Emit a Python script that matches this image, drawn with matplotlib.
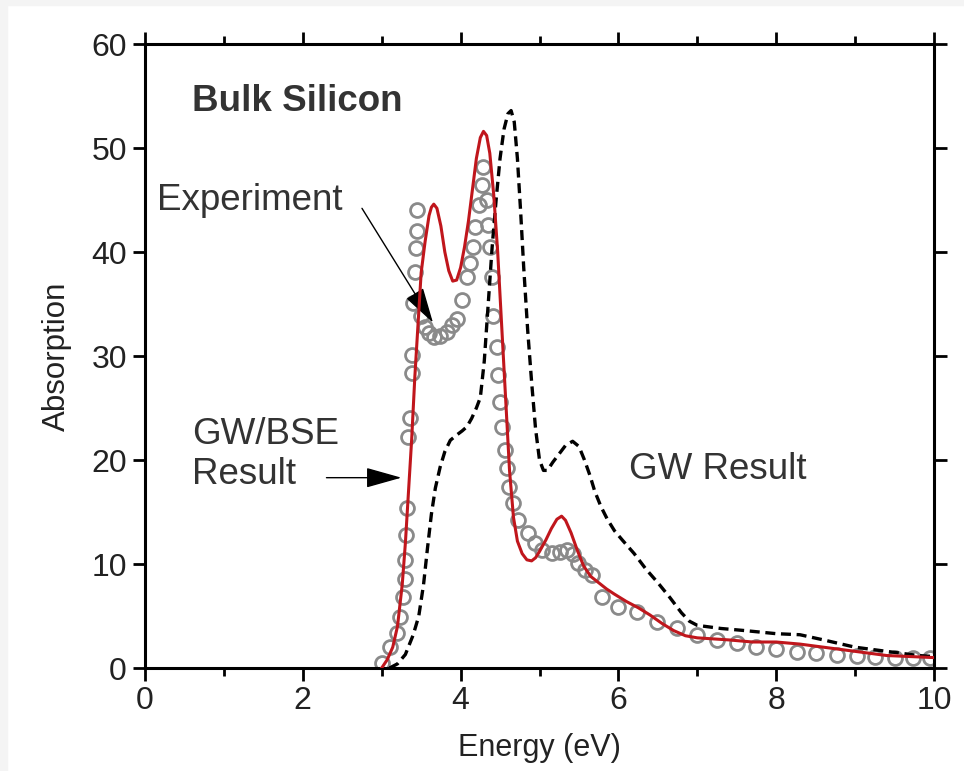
import matplotlib.pyplot as plt
from matplotlib.patches import Rectangle

plt.rcParams['font.family'] = ['Liberation Sans', 'DejaVu Sans']

# GW/BSE result (red solid)
bse_e = [3.0, 3.07, 3.14, 3.2, 3.26, 3.3, 3.34, 3.38, 3.42, 3.46, 3.5, 3.55, 3.6, 3.63, 3.66,
         3.7, 3.75, 3.8, 3.85, 3.9, 3.95, 4.0, 4.05, 4.1, 4.15, 4.2, 4.25, 4.29, 4.33, 4.37,
         4.42, 4.47, 4.52, 4.57, 4.62, 4.67, 4.72, 4.78, 4.84, 4.9, 4.95, 5.0, 5.08, 5.15,
         5.22, 5.28, 5.33, 5.4, 5.48, 5.56, 5.65, 5.75, 5.85, 5.95, 6.1, 6.25, 6.4, 6.55,
         6.7, 6.85, 7.0, 7.2, 7.4, 7.7, 8.0, 8.3, 8.6, 9.0, 9.4, 9.7, 10.0]
bse_a = [0, 0.8, 2, 4, 8, 12, 17, 22, 28, 33, 38, 41, 43.5, 44.3, 44.6,
         44.2, 42.5, 40, 38.2, 37.2, 37.3, 38.5, 40.5, 43, 46, 49, 51, 51.6, 51.2, 49.5,
         45.5, 40, 33, 26, 19, 14.5, 12.2, 11, 10.4, 10.3, 10.6, 11.2, 12.3, 13.4,
         14.3, 14.6, 14.2, 13, 11.3, 9.8, 8.8, 8.2, 7.6, 7.1, 6.4, 5.8, 5.1, 4.3,
         3.6, 3.1, 2.9, 2.8, 2.7, 2.5, 2.5, 2.3, 2.0, 1.6, 1.2, 1.1, 1.0]

# GW result (black dashed)
gw_e = [3.1, 3.2, 3.3, 3.4, 3.47, 3.53, 3.58, 3.63, 3.68, 3.74, 3.8, 3.87, 3.95, 4.02, 4.08,
        4.14, 4.2, 4.25, 4.3, 4.35, 4.4, 4.45, 4.5, 4.55, 4.6, 4.64, 4.68, 4.72, 4.76, 4.8,
        4.85, 4.9, 4.95, 5.0, 5.05, 5.1, 5.17, 5.25, 5.33, 5.42, 5.5, 5.57, 5.64, 5.7, 5.78,
        5.86, 5.95, 6.05, 6.2, 6.35, 6.5, 6.65, 6.8, 6.9, 7.0, 7.3, 7.6, 8.0, 8.3, 8.6, 9.0,
        9.4, 9.8, 10.0]
gw_a = [0, 0.4, 1.3, 3.2, 5, 8, 11.5, 14.8, 17.3, 19.3, 20.8, 21.9, 22.4, 22.8, 23.2,
        24, 25, 26, 29.5, 35, 40.5, 45, 49, 51.8, 53.3, 53.6, 52.5, 49, 44, 38.5,
        32.5, 27.5, 23, 20, 19, 19, 19.8, 20.6, 21.4, 21.8, 21.3, 20, 18.5, 17, 15.5,
        14.3, 13.2, 12.3, 11, 9.5, 8.2, 6.8, 5.3, 4.5, 4.1, 3.8, 3.6, 3.3, 3.2, 2.7, 2.0,
        1.6, 1.2, 1.1]

# experiment (open circles)
exp_e = [3.0, 3.1, 3.19, 3.23, 3.27, 3.3, 3.3, 3.31, 3.32, 3.33, 3.36, 3.38, 3.38, 3.4, 3.42,
         3.44, 3.45, 3.45, 3.5, 3.55, 3.6, 3.66, 3.74, 3.83, 3.89, 3.95, 4.02, 4.08, 4.12, 4.16,
         4.18, 4.23, 4.27, 4.29, 4.33, 4.35, 4.37, 4.4, 4.41, 4.46, 4.47, 4.5, 4.52, 4.56, 4.59,
         4.61, 4.66, 4.73, 4.85, 4.94, 5.03, 5.16, 5.26, 5.35, 5.42, 5.49, 5.58, 5.66, 5.79,
         6.0, 6.24, 6.49, 6.74, 7.0, 7.25, 7.5, 7.75, 8.0, 8.26, 8.5, 8.77, 9.02, 9.25, 9.5,
         9.73, 9.95]
exp_a = [0.5, 2.0, 3.4, 4.9, 6.8, 8.6, 10.4, 12.8, 15.4, 22.2, 24, 28.4, 30.1, 35.1, 38.1,
         40.4, 42, 44, 33.8, 32.8, 32.2, 31.8, 31.9, 32.3, 33, 33.6, 35.4, 37.6, 38.9, 40.5,
         42.4, 44.5, 46.4, 48.2, 45, 42.6, 40.5, 37.6, 33.8, 30.9, 28.2, 25.6, 23.2, 21, 19.2,
         17.4, 15.9, 14.2, 13, 12, 11.3, 11.1, 11.2, 11.3, 11, 10.1, 9.4, 8.9, 6.8,
         5.9, 5.4, 4.4, 3.8, 3.2, 2.7, 2.4, 2.0, 1.8, 1.5, 1.4, 1.25, 1.15, 1.05, 1.0,
         1.0, 1.0]

fig = plt.figure(figsize=(9.64, 7.71), dpi=100)
fig.patch.set_facecolor('white')
# faint grey strips on the top/left edge of the original image
fig.patches.append(Rectangle((0, 0), 7 / 964, 1, transform=fig.transFigure, color='#f4f4f4', zorder=-1))
fig.patches.append(Rectangle((0, 1 - 5 / 771), 1, 5 / 771, transform=fig.transFigure, color='#f4f4f4', zorder=-1))

ax = fig.add_axes([145 / 964, 1 - 668 / 771, (934 - 145) / 964, (668 - 44) / 771])

ax.plot(exp_e, exp_a, 'o', ms=10, mfc='none', mec='#8a8a8a', mew=2.0, zorder=2)
ax.plot(gw_e, gw_a, color='black', ls=(0, (3.0, 1.7)), lw=2.4, zorder=3)
ax.plot(bse_e, bse_a, color='#c0161c', lw=2.2, zorder=4)

ax.set_xlim(0, 10)
ax.set_ylim(0, 60)
ax.set_xticks(range(0, 11, 2))
ax.set_xticks(range(1, 10, 2), minor=True)
ax.set_yticks(range(0, 61, 10))
for s in ax.spines.values():
    s.set_linewidth(2.2)
ax.tick_params(which='both', direction='out', top=True, right=True, width=2, labelsize=23,
               colors='black', labelcolor='#222222', pad=4)
ax.tick_params(which='major', length=9)
ax.tick_params(which='minor', length=6)

ax.set_xlabel('Energy (eV)', fontsize=22, color='#222222', labelpad=12)
ax.set_ylabel('Absorption', fontsize=22.5, color='#222222', labelpad=14)

txt = '#333333'
ax.text(0.6, 54.5, 'Bulk Silicon', fontsize=26.5, fontweight='bold', color=txt, va='center')
ax.text(0.15, 45.0, 'Experiment', fontsize=26.5, color=txt, va='center')
ax.text(0.6, 22.5, 'GW/BSE', fontsize=26.5, color=txt, va='center')
ax.text(0.6, 18.6, 'Result', fontsize=26.5, color=txt, va='center')
ax.text(6.13, 19.1, 'GW Result', fontsize=26.5, color=txt, va='center')

arrow = dict(arrowstyle='-|>,head_length=1.6,head_width=0.45', mutation_scale=14,
             color='black', lw=1.0, shrinkA=0, shrinkB=0)
ax.annotate('', xy=(3.65, 33.2), xytext=(2.75, 44.2), arrowprops=arrow)
ax.annotate('', xy=(3.25, 18.3), xytext=(2.3, 18.3), arrowprops=arrow)

plt.savefig('out.png', dpi=100)
